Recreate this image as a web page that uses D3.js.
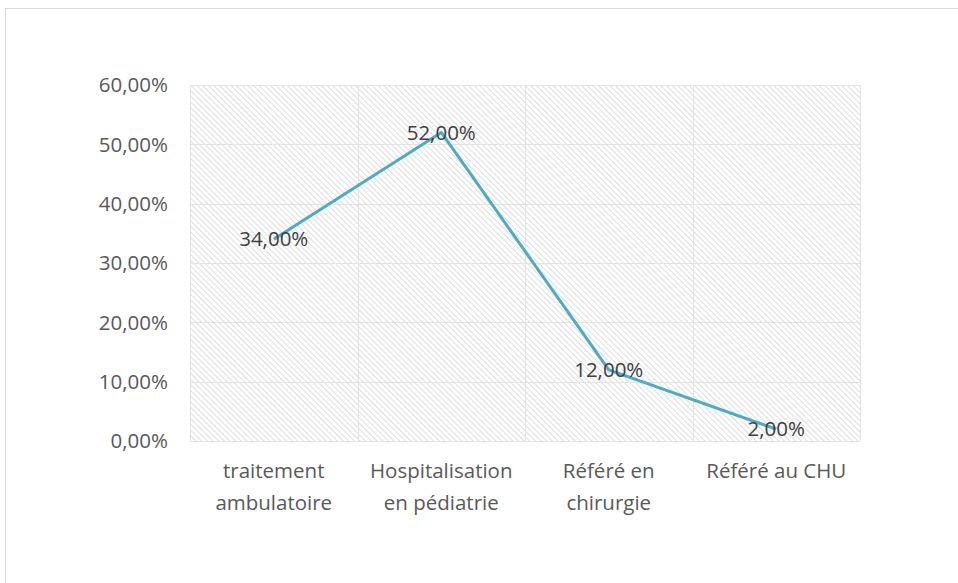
<!DOCTYPE html>
<html>
<head>
<meta charset="utf-8">
<script src="https://cdn.jsdelivr.net/npm/d3@7"></script>
<style>
    body { margin: 0; background: #fff; }
    text { font-family: "Open Sans", sans-serif; fill: #595959; }
</style>
</head>
<body>
<svg id="chart" width="958" height="583"></svg>
<script>
// données
const categories = [
    ['traitement', 'ambulatoire'],
    ['Hospitalisation', 'en pédiatrie'],
    ['Référé en', 'chirurgie'],
    ['Référé au CHU'],
];
const values = [0.34, 0.52, 0.12, 0.02];
const yTicks = [0, 0.1, 0.2, 0.3, 0.4, 0.5, 0.6];

const svg = d3.select('#chart');
const margin = { top: 85, right: 98, bottom: 142, left: 190 };
const w = 958 - margin.left - margin.right;
const h = 583 - margin.top - margin.bottom;

const fmt = (v) => d3.format('.2f')(v * 100).replace('.', ',') + '%';

// cadre
svg.append('rect')
    .attr('x', 5.5).attr('y', 8.5)
    .attr('width', 1000).attr('height', 1000)
    .attr('fill', 'none')
    .attr('stroke', '#d9d9d9');

// motif hachuré
const pattern = svg.append('defs')
    .append('pattern')
    .attr('id', 'hatch')
    .attr('patternUnits', 'userSpaceOnUse')
    .attr('width', 4).attr('height', 4)
    .attr('patternTransform', 'rotate(-45)');
pattern.append('rect').attr('width', 4).attr('height', 4).attr('fill', '#fff');
pattern.append('line')
    .attr('x1', 0).attr('y1', 0).attr('x2', 0).attr('y2', 4)
    .attr('stroke', '#d6d6d6').attr('stroke-width', 1.6);

const g = svg.append('g').attr('transform', `translate(${margin.left},${margin.top})`);

const x = d3.scaleBand().domain(d3.range(categories.length)).range([0, w]);
const y = d3.scaleLinear().domain([0, 0.6]).range([h, 0]);

g.append('rect')
    .attr('width', w).attr('height', h)
    .attr('fill', 'url(#hatch)');

// grille horizontale
g.selectAll('.hgrid')
    .data(yTicks)
    .enter()
    .append('line')
    .attr('x1', 0).attr('x2', w)
    .attr('y1', (d) => Math.round(y(d)) + 0.5)
    .attr('y2', (d) => Math.round(y(d)) + 0.5)
    .attr('stroke', '#e3e3e3');

// grille verticale
g.selectAll('.vgrid')
    .data(d3.range(categories.length + 1))
    .enter()
    .append('line')
    .attr('x1', (d) => Math.round(d * x.step()) + 0.5)
    .attr('x2', (d) => Math.round(d * x.step()) + 0.5)
    .attr('y1', 0).attr('y2', h)
    .attr('stroke', '#e3e3e3');

// axe Y
g.selectAll('.ylab')
    .data(yTicks)
    .enter()
    .append('text')
    .attr('x', -22)
    .attr('y', (d) => y(d))
    .attr('dy', '0.35em')
    .attr('text-anchor', 'end')
    .style('font-size', '20.5px')
    .text(fmt);

// axe X
g.selectAll('.xlab')
    .data(categories)
    .enter()
    .append('text')
    .attr('text-anchor', 'middle')
    .attr('transform', (d, i) => `translate(${x(i) + x.bandwidth() / 2},${h + 37})`)
    .style('font-size', '20.5px')
    .selectAll('tspan')
    .data((d) => d)
    .enter()
    .append('tspan')
    .attr('x', 0)
    .attr('dy', (d, i) => (i === 0 ? 0 : 32))
    .text((d) => d);

// courbe
const line = d3.line()
    .x((d, i) => x(i) + x.bandwidth() / 2)
    .y((d) => y(d));

g.append('path')
    .datum(values)
    .attr('d', line)
    .attr('fill', 'none')
    .attr('stroke', '#4bacc6')
    .attr('stroke-width', 3)
    .attr('stroke-linejoin', 'round');

// étiquettes
g.selectAll('.vlab')
    .data(values)
    .enter()
    .append('text')
    .attr('x', (d, i) => x(i) + x.bandwidth() / 2)
    .attr('y', (d) => y(d))
    .attr('dy', '0.35em')
    .attr('text-anchor', 'middle')
    .style('font-size', '20.5px')
    .style('fill', '#404040')
    .text(fmt);
</script>
</body>
</html>
